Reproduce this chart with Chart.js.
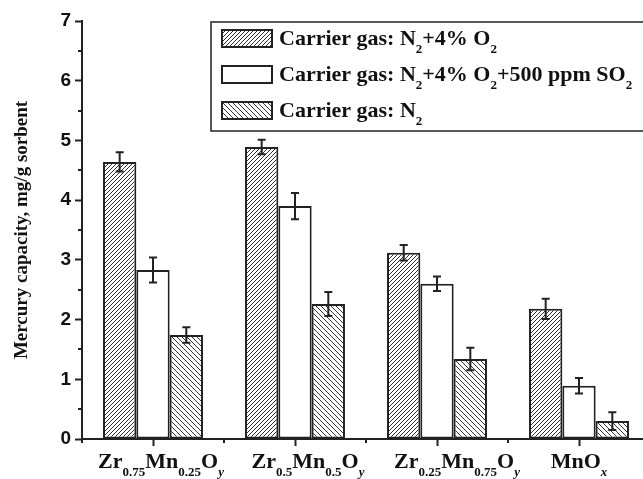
<!DOCTYPE html>
<html>
<head>
<meta charset="utf-8">
<script src="https://cdn.jsdelivr.net/npm/chart.js@4.4.1/dist/chart.umd.min.js"></script>
<style>
  html, body { margin: 0; padding: 0; overflow: hidden; background: #fff; }
  #wrap { width: 652px; height: 479px; }
</style>
</head>
<body>
<div id="wrap"><canvas id="chart" width="652" height="479"></canvas></div>
<script>
(function () {
    'use strict';

    // sorbents on the x axis
    var categories = ['Zr0.75Mn0.25Oy', 'Zr0.5Mn0.5Oy', 'Zr0.25Mn0.75Oy', 'MnOx'];
    // same labels split into [text, subscript, italic] pieces
    var categoryParts = [
        [['Zr'], ['0.75', 1], ['Mn'], ['0.25', 1], ['O'], ['y', 1, 1]],
        [['Zr'], ['0.5', 1], ['Mn'], ['0.5', 1], ['O'], ['y', 1, 1]],
        [['Zr'], ['0.25', 1], ['Mn'], ['0.75', 1], ['O'], ['y', 1, 1]],
        [['MnO'], ['x', 1, 1]]
    ];

    var seriesLabels = ['Carrier gas: N\u2082+4% O\u2082', 'Carrier gas: N\u2082+4% O\u2082+500 ppm SO\u2082', 'Carrier gas: N\u2082'];
    var seriesParts = [
        [['Carrier gas: N'], ['2', 1], ['+4% O'], ['2', 1]],
        [['Carrier gas: N'], ['2', 1], ['+4% O'], ['2', 1], ['+500 ppm SO'], ['2', 1]],
        [['Carrier gas: N'], ['2', 1]]
    ];

    // mercury capacity, mg/g sorbent
    var o2Values = [4.64, 4.89, 3.12, 2.18];
    var o2Errors = [0.16, 0.12, 0.13, 0.17];
    var so2Values = [2.83, 3.90, 2.60, 0.89];
    var so2Errors = [0.21, 0.22, 0.12, 0.13];
    var n2Values = [1.74, 2.26, 1.34, 0.30];
    var n2Errors = [0.13, 0.20, 0.19, 0.15];

    var yMin = 0, yMax = 7, yStep = 1;

    var INK = '#222';
    var SERIF = "'Liberation Serif', 'Times New Roman', serif";
    var SANS = "'Liberation Sans', Arial, sans-serif";

    var canvas = document.getElementById('chart');
    var ctx = canvas.getContext('2d');

    function hatch(forward, size) {
        var c = document.createElement('canvas');
        c.width = size;
        c.height = size;
        var g = c.getContext('2d');
        g.fillStyle = '#fff';
        g.fillRect(0, 0, size, size);
        g.strokeStyle = '#333';
        g.lineWidth = 1;
        g.beginPath();
        if (forward) {
            g.moveTo(-1, size + 1); g.lineTo(size + 1, -1);
            g.moveTo(-1, 1); g.lineTo(1, -1);
            g.moveTo(size - 1, size + 1); g.lineTo(size + 1, size - 1);
        } else {
            g.moveTo(-1, -1); g.lineTo(size + 1, size + 1);
            g.moveTo(size - 1, -1); g.lineTo(size + 1, 1);
            g.moveTo(-1, size - 1); g.lineTo(1, size + 1);
        }
        g.stroke();
        return ctx.createPattern(c, 'repeat');
    }

    var fills = [hatch(true, 4), '#fff', hatch(false, 5)];

    // text with subscripts, drawn piece by piece
    function partFont(p, size) {
        var sub = p[1], it = p[2];
        return (it ? 'italic ' : '') + 'bold ' + (sub ? Math.round(size * 0.58) : size) + 'px ' + SERIF;
    }
    function richWidth(parts, size) {
        var w = 0;
        parts.forEach(function (p) {
            ctx.font = partFont(p, size);
            w += ctx.measureText(p[0]).width;
        });
        return w;
    }
    function drawRich(parts, x, y, size, align) {
        var w = richWidth(parts, size);
        var cx = align === 'center' ? x - w / 2 : x;
        ctx.textAlign = 'left';
        ctx.textBaseline = 'alphabetic';
        parts.forEach(function (p) {
            ctx.font = partFont(p, size);
            ctx.fillText(p[0], cx, p[1] ? y + size * 0.36 : y);
            cx += ctx.measureText(p[0]).width;
        });
    }

    var errorBars = {
        id: 'errorBars',
        afterDatasetsDraw: function (chart) {
            var y = chart.scales.y;
            var c = chart.ctx;
            c.save();
            c.strokeStyle = INK;
            c.lineWidth = 2;
            chart.data.datasets.forEach(function (ds, i) {
                chart.getDatasetMeta(i).data.forEach(function (bar, j) {
                    var v = ds.data[j], e = ds.errors[j];
                    var top = y.getPixelForValue(v + e);
                    var bot = y.getPixelForValue(v - e);
                    c.beginPath();
                    c.moveTo(bar.x, top); c.lineTo(bar.x, bot);
                    c.moveTo(bar.x - 4, top); c.lineTo(bar.x + 4, top);
                    c.moveTo(bar.x - 4, bot); c.lineTo(bar.x + 4, bot);
                    c.stroke();
                });
            });
            c.restore();
        }
    };

    // the original labels sit a little right of their ticks
    var labelShift = [8, 13, 20, 0];

    var extras = {
        id: 'extras',
        afterDraw: function (chart) {
            var x = chart.scales.x, y = chart.scales.y;
            var area = chart.chartArea;
            var c = chart.ctx;
            c.save();
            c.strokeStyle = INK;
            c.lineWidth = 2;
            c.beginPath();
            // minor y ticks at the half units
            for (var v = yMin + yStep / 2; v < yMax; v += yStep) {
                var py = Math.round(y.getPixelForValue(v));
                c.moveTo(area.left, py); c.lineTo(area.left - 4, py);
            }
            // minor x ticks at the group boundaries
            var half = (x.getPixelForValue(1) - x.getPixelForValue(0)) / 2;
            for (var i = 0; i <= categories.length; i++) {
                var px = Math.round(x.getPixelForValue(i) - half);
                c.moveTo(px, area.bottom); c.lineTo(px, area.bottom + 4);
            }
            c.stroke();

            // category labels
            c.fillStyle = '#111';
            categoryParts.forEach(function (parts, k) {
                drawRich(parts, x.getPixelForValue(k) + labelShift[k], area.bottom + 29, 22, 'center');
            });

            // legend box
            c.fillStyle = '#fff';
            c.fillRect(211, 22, 460, 109);
            c.lineWidth = 1.5;
            c.strokeRect(211, 22, 460, 109);
            seriesParts.forEach(function (parts, k) {
                var cy = 38 + k * 36;
                c.fillStyle = fills[k];
                c.fillRect(222, cy - 8, 50, 17);
                c.lineWidth = 2;
                c.strokeRect(222, cy - 8, 50, 17);
                c.fillStyle = '#111';
                drawRich(parts, 279, cy + 7, 22, 'left');
            });
            c.restore();
        }
    };

    function dataset(k, values, errors) {
        return {
            label: seriesLabels[k],
            data: values,
            errors: errors,
            backgroundColor: fills[k],
            borderColor: INK,
            borderWidth: 2,
            borderSkipped: false,
            barPercentage: 1,
            categoryPercentage: 0.704
        };
    }

    new Chart(canvas, {
        type: 'bar',
        data: {
            labels: categories,
            datasets: [
                dataset(0, o2Values, o2Errors),
                dataset(1, so2Values, so2Errors),
                dataset(2, n2Values, n2Errors)
            ]
        },
        options: {
            responsive: false,
            animation: false,
            layout: { padding: { top: 21, right: 2, left: 0, bottom: 0 } },
            plugins: {
                legend: { display: false },
                tooltip: { enabled: false }
            },
            scales: {
                x: {
                    grid: { drawOnChartArea: false, offset: false, tickLength: 7, tickWidth: 2, tickColor: INK },
                    border: { color: INK, width: 2 },
                    ticks: { display: false },
                    afterFit: function (s) { s.height = 40; }
                },
                y: {
                    min: yMin,
                    max: yMax,
                    ticks: {
                        stepSize: yStep,
                        padding: 4,
                        color: '#111',
                        font: { family: SANS, size: 19, weight: 'bold' }
                    },
                    grid: { drawOnChartArea: false, tickLength: 7, tickWidth: 2, tickColor: INK },
                    border: { color: INK, width: 2 },
                    title: {
                        display: true,
                        text: 'Mercury capacity, mg/g sorbent',
                        color: '#111',
                        font: { family: SERIF, size: 19, weight: 'bold' },
                        padding: { top: 11, bottom: 0 }
                    },
                    afterFit: function (s) { s.width = 82; }
                }
            }
        },
        plugins: [errorBars, extras]
    });
})();
</script>
</body>
</html>
